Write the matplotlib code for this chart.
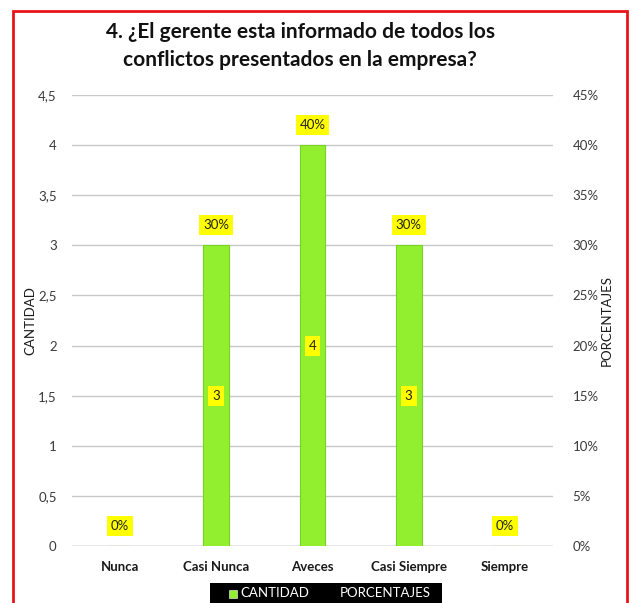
import matplotlib.pyplot as plt
from matplotlib.patches import Rectangle

categories = ["Nunca", "Casi Nunca", "Aveces", "Casi Siempre", "Siempre"]
cantidad = [0, 3, 4, 3, 0]
porcentajes = [0.0, 0.30, 0.40, 0.30, 0.0]
left_ticks = [0, 0.5, 1, 1.5, 2, 2.5, 3, 3.5, 4, 4.5]
left_tick_labels = ["0", "0,5", "1", "1,5", "2", "2,5", "3", "3,5", "4", "4,5"]
right_ticks = [0, 0.05, 0.10, 0.15, 0.20, 0.25, 0.30, 0.35, 0.40, 0.45]
right_tick_labels = ["0%", "5%", "10%", "15%", "20%", "25%", "30%", "35%", "40%", "45%"]
title = "4. ¿El gerente esta informado de todos los\nconflictos presentados en la empresa?"
legend_labels = ["CANTIDAD", "PORCENTAJES"]

plt.rcParams["font.family"] = ["Lato", "DejaVu Sans"]

W, H = 632, 603
fig = plt.figure(figsize=(W / 100, H / 100), dpi=100)
fig.patch.set_facecolor("white")

# red outer frame (bottom edge runs past the canvas)
fig.patches.append(Rectangle((12.5 / W, -0.05), (627 - 12.5) / W, 1.05 - 11.5 / H,
                             transform=fig.transFigure, fill=False,
                             edgecolor="#E8141B", linewidth=2.0, zorder=10))

ax = fig.add_axes([72 / W, 1 - 546 / H, (553 - 72) / W, (546 - 95) / H])
ax2 = ax.twinx()

x = list(range(len(categories)))
bar_color = "#92EF30"
ax.bar(x, cantidad, width=0.27, color=bar_color, edgecolor="#78D21E",
       linewidth=0.8, zorder=3)

ax.set_ylim(0, 4.5)
ax2.set_ylim(0, 0.45)
ax.set_xlim(-0.5, len(categories) - 0.5)

ax.set_yticks(left_ticks)
ax.set_yticklabels(left_tick_labels)
ax2.set_yticks(right_ticks)
ax2.set_yticklabels(right_tick_labels)

ax.yaxis.grid(True, color="#C8C8C8", linewidth=1.0, zorder=0)
ax.set_axisbelow(True)
for a in (ax, ax2):
    for s in a.spines.values():
        s.set_visible(False)
    a.tick_params(axis="y", length=0, labelsize=9.5, colors="#3a3a3a")
ax.tick_params(axis="y", pad=11)
ax2.tick_params(axis="y", pad=14)
ax.axhline(0, color="#C0C0C0", linewidth=1.0, zorder=2)

ax.set_xticks(x)
ax.set_xticklabels(categories, fontweight="bold", fontsize=9.5, color="#1a1a1a")
ax.tick_params(axis="x", length=0, pad=11)

# axis titles
fig.text(30 / W, 1 - 321 / H, "CANTIDAD", rotation=90, ha="center", va="center",
         fontsize=9.5, color="#1a1a1a")
fig.text(607 / W, 1 - 321 / H, "PORCENTAJES", rotation=90, ha="center", va="center",
         fontsize=9.5, color="#1a1a1a")

box = dict(boxstyle="square,pad=0.3", facecolor="#FFFF00", edgecolor="none")

# count labels in the middle of each bar
for xi, v in zip(x, cantidad):
    if v > 0:
        ax.text(xi, v / 2, f"{v}", ha="center", va="center", fontsize=9.5,
                color="#222222", bbox=box, zorder=5)

# percentage labels above each value
for xi, p in zip(x, porcentajes):
    ax2.annotate(f"{int(round(p * 100))}%", (xi, p), xytext=(0, 20),
                 textcoords="offset pixels", ha="center", va="center",
                 fontsize=9.5, color="#222222", bbox=box, zorder=5)

fig.text(300 / W, 1 - 46 / H, title, ha="center", va="center", fontsize=15,
         fontweight="bold", color="#111111", linespacing=1.45)

# legend on a black band
fig.patches.append(Rectangle((210 / W, -0.05), (442 - 210) / W, 0.05 + 1 - 583 / H,
                             transform=fig.transFigure, facecolor="black",
                             edgecolor="none", zorder=5))
fig.patches.append(Rectangle((229 / W, 1 - 598 / H), 8 / W, 8 / H,
                             transform=fig.transFigure, facecolor=bar_color,
                             edgecolor="white", linewidth=0.4, zorder=6))
fig.text(240 / W, 1 - 593 / H, legend_labels[0], ha="left", va="center",
         fontsize=9.5, color="white", zorder=7)
fig.text(340 / W, 1 - 593 / H, legend_labels[1], ha="left", va="center",
         fontsize=9.5, color="white", zorder=7)

fig.savefig("out.png", dpi=100, facecolor="white")
